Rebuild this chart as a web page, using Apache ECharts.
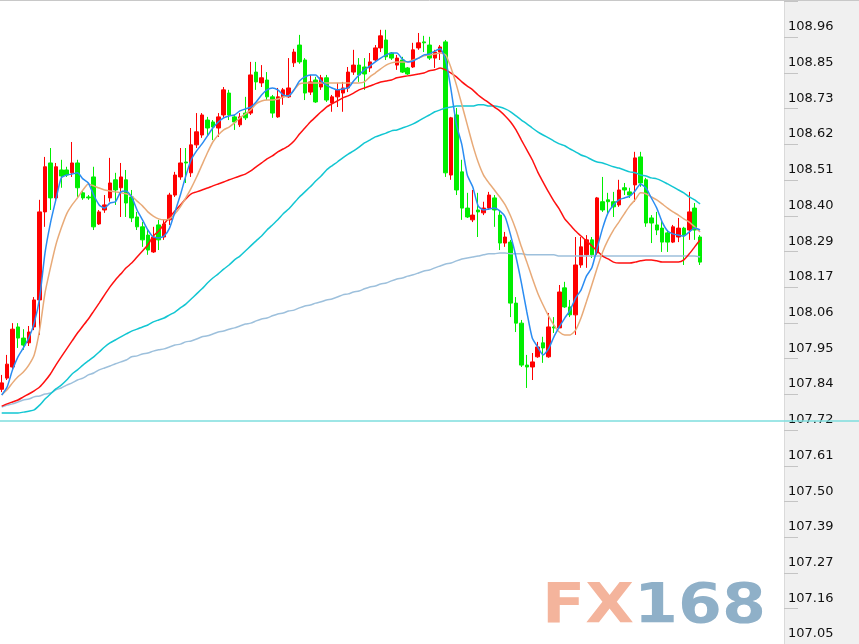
<!DOCTYPE html>
<html><head><meta charset="utf-8">
<script src="https://cdn.jsdelivr.net/npm/echarts@6/dist/echarts.min.js"></script>
<style>html,body{margin:0;padding:0;background:#f0f0f0;overflow:hidden}#c{width:859px;height:644px}</style>
</head><body><div id="c"></div>
<script>
const SLOT_COUNT = 145;
const Y_STEP = 0.11235;
const Y_MIN = 106.9375;
const Y_MAX = Y_MIN + 19 * Y_STEP;
const yTickLabels = ['107.05','107.16','107.27','107.39','107.50','107.61','107.72','107.84','107.95','108.06','108.17','108.29','108.40','108.51','108.62','108.73','108.85','108.96'];
const supportLevel = 107.724;

const open = [107.820,107.855,107.890,108.016,107.981,107.966,108.016,108.101,108.378,108.532,
108.422,108.510,108.510,108.501,108.532,108.438,108.425,108.488,108.340,108.384,
108.422,108.479,108.454,108.479,108.425,108.362,108.331,108.305,108.252,108.337,
108.299,108.353,108.431,108.488,108.535,108.501,108.589,108.620,108.667,108.661,
108.642,108.683,108.752,108.677,108.652,108.689,108.689,108.818,108.784,108.793,
108.740,108.677,108.740,108.740,108.847,108.903,108.856,108.755,108.793,108.771,
108.800,108.721,108.740,108.752,108.768,108.818,108.840,108.834,108.831,108.856,
108.894,108.919,108.878,108.840,108.856,108.831,108.834,108.894,108.913,108.903,
108.862,108.881,108.913,108.494,108.683,108.504,108.390,108.353,108.384,108.375,
108.390,108.422,108.368,108.280,108.283,108.091,108.028,107.896,107.890,107.922,
107.966,107.922,108.016,108.013,108.139,108.079,108.054,108.211,108.243,108.290,
108.249,108.410,108.416,108.410,108.400,108.454,108.441,108.463,108.551,108.479,
108.359,108.337,108.327,108.312,108.283,108.299,108.327,108.321,108.390,108.299];

const close = [107.840,107.899,108.009,107.981,107.959,108.000,108.101,108.378,108.520,108.422,
108.520,108.491,108.494,108.532,108.454,108.422,108.422,108.331,108.378,108.400,
108.469,108.447,108.488,108.406,108.359,108.331,108.290,108.258,108.299,108.290,
108.340,108.431,108.494,108.532,108.532,108.589,108.630,108.683,108.642,108.645,
108.677,108.762,108.683,108.661,108.677,108.674,108.809,108.787,108.800,108.740,
108.689,108.740,108.762,108.768,108.881,108.850,108.752,108.787,108.724,108.800,
108.730,108.740,108.762,108.768,108.818,108.840,108.809,108.812,108.850,108.894,
108.932,108.866,108.862,108.862,108.818,108.812,108.888,108.910,108.910,108.862,
108.881,108.897,108.501,108.674,108.447,108.390,108.362,108.368,108.378,108.390,
108.431,108.384,108.280,108.299,108.091,108.028,107.896,107.890,107.906,107.953,
107.950,108.016,108.013,108.126,108.079,108.054,108.211,108.268,108.290,108.243,
108.422,108.384,108.410,108.394,108.447,108.447,108.431,108.548,108.469,108.343,
108.343,108.321,108.283,108.283,108.331,108.327,108.305,108.378,108.321,108.220];

const low = [107.811,107.849,107.881,107.950,107.944,107.956,108.006,107.991,108.331,108.384,
108.410,108.454,108.488,108.488,108.425,108.416,108.416,108.321,108.337,108.375,
108.410,108.400,108.362,108.362,108.346,108.321,108.268,108.243,108.249,108.258,
108.290,108.337,108.425,108.479,108.469,108.488,108.579,108.611,108.620,108.604,
108.614,108.674,108.667,108.636,108.645,108.667,108.683,108.762,108.771,108.730,
108.674,108.674,108.715,108.737,108.834,108.844,108.730,108.746,108.721,108.762,
108.724,108.693,108.708,108.693,108.755,108.809,108.787,108.762,108.818,108.850,
108.881,108.856,108.856,108.825,108.815,108.809,108.831,108.888,108.881,108.856,
108.831,108.856,108.488,108.479,108.431,108.353,108.359,108.346,108.299,108.368,
108.384,108.331,108.258,108.268,108.047,108.000,107.890,107.824,107.849,107.919,
107.903,107.919,107.997,108.013,108.076,108.047,107.991,108.202,108.202,108.233,
108.243,108.378,108.368,108.362,108.394,108.431,108.422,108.410,108.457,108.331,
108.280,108.305,108.252,108.252,108.280,108.283,108.211,108.290,108.290,108.211];

const high = [107.865,107.928,108.028,108.028,108.009,108.019,108.110,108.416,108.551,108.579,
108.532,108.542,108.520,108.598,108.542,108.447,108.431,108.520,108.384,108.431,
108.548,108.501,108.532,108.510,108.447,108.378,108.346,108.321,108.331,108.353,
108.353,108.438,108.504,108.579,108.579,108.642,108.689,108.689,108.677,108.667,
108.689,108.771,108.762,108.683,108.689,108.740,108.850,108.850,108.840,108.818,
108.746,108.768,108.768,108.862,108.891,108.935,108.862,108.809,108.803,108.809,
108.809,108.746,108.784,108.787,108.834,108.888,108.862,108.862,108.878,108.903,
108.951,108.951,108.881,108.872,108.866,108.834,108.910,108.941,108.932,108.929,
108.888,108.903,108.919,108.677,108.705,108.542,108.438,108.447,108.438,108.410,
108.441,108.431,108.384,108.315,108.290,108.110,108.038,107.928,107.934,107.969,
107.985,108.060,108.047,108.148,108.158,108.101,108.299,108.299,108.305,108.299,
108.425,108.488,108.438,108.441,108.479,108.469,108.454,108.567,108.567,108.485,
108.368,108.378,108.353,108.321,108.337,108.359,108.331,108.441,108.406,108.305];

const maBlue = [107.802,107.827,107.881,107.922,107.950,107.981,108.028,108.107,108.249,108.343,
108.416,108.485,108.494,108.497,108.501,108.482,108.469,108.431,108.400,108.390,
108.406,108.410,108.441,108.444,108.425,108.384,108.353,108.321,108.299,108.296,
108.302,108.327,108.378,108.431,108.491,108.542,108.570,108.592,108.617,108.642,
108.661,108.674,108.680,108.683,108.696,108.702,108.708,108.724,108.746,108.762,
108.768,108.762,108.746,108.743,108.762,108.790,108.803,108.809,108.809,108.790,
108.777,108.768,108.762,108.765,108.768,108.790,108.809,108.825,108.837,108.850,
108.862,108.872,108.878,108.878,108.859,108.850,108.853,108.862,108.872,108.875,
108.884,108.891,108.856,108.762,108.652,108.589,108.494,108.457,108.397,108.384,
108.387,108.390,108.381,108.362,108.305,108.236,108.154,108.063,107.981,107.953,
107.928,107.947,107.985,108.016,108.044,108.069,108.107,108.132,108.176,108.202,
108.265,108.327,108.375,108.400,108.416,108.422,108.428,108.444,108.466,108.453,
108.422,108.390,108.346,108.318,108.309,108.305,108.302,108.315,108.327,108.321];

const maTan = [107.802,107.818,107.840,107.859,107.874,107.896,107.928,108.006,108.123,108.202,
108.274,108.327,108.372,108.400,108.422,108.447,108.466,108.460,108.453,108.447,
108.444,108.441,108.438,108.435,108.428,108.412,108.397,108.378,108.365,108.356,
108.353,108.356,108.372,108.394,108.422,108.453,108.488,108.526,108.564,108.598,
108.620,108.636,108.645,108.658,108.674,108.686,108.699,108.718,108.727,108.730,
108.730,108.733,108.740,108.743,108.762,108.781,108.784,108.784,108.784,108.784,
108.784,108.784,108.784,108.784,108.784,108.784,108.784,108.787,108.803,108.815,
108.828,108.840,108.847,108.850,108.850,108.850,108.856,108.862,108.869,108.872,
108.875,108.878,108.872,108.831,108.777,108.715,108.652,108.589,108.535,108.494,
108.469,108.447,108.425,108.400,108.365,108.321,108.268,108.220,108.170,108.123,
108.085,108.051,108.022,108.000,107.991,107.991,108.006,108.044,108.095,108.148,
108.202,108.252,108.290,108.321,108.346,108.372,108.397,108.416,108.438,108.435,
108.425,108.416,108.403,108.390,108.378,108.368,108.356,108.346,108.331,108.315];

const maRed = [107.767,107.774,107.780,107.786,107.796,107.805,107.815,107.827,107.846,107.868,
107.896,107.922,107.947,107.972,107.997,108.019,108.041,108.066,108.091,108.117,
108.142,108.164,108.183,108.202,108.217,108.236,108.255,108.274,108.302,108.318,
108.340,108.362,108.381,108.400,108.419,108.435,108.441,108.447,108.453,108.460,
108.466,108.472,108.479,108.485,108.491,108.497,108.507,108.520,108.532,108.545,
108.554,108.567,108.576,108.586,108.601,108.623,108.642,108.661,108.677,108.693,
108.708,108.718,108.727,108.737,108.743,108.752,108.762,108.768,108.774,108.781,
108.787,108.790,108.793,108.800,108.803,108.806,108.809,108.812,108.815,108.822,
108.825,108.831,108.825,108.815,108.803,108.787,108.774,108.762,108.746,108.733,
108.721,108.708,108.696,108.680,108.661,108.636,108.604,108.573,108.542,108.504,
108.472,108.441,108.412,108.387,108.356,108.337,108.318,108.302,108.287,108.271,
108.255,108.239,108.230,108.220,108.217,108.217,108.217,108.220,108.224,108.227,
108.227,108.224,108.220,108.220,108.220,108.220,108.227,108.246,108.268,108.290];

const maCyan = [107.745,107.745,107.745,107.745,107.748,107.751,107.755,107.770,107.789,107.805,
107.821,107.833,107.849,107.868,107.881,107.896,107.909,107.922,107.937,107.953,
107.966,107.975,107.985,107.994,108.003,108.009,108.016,108.022,108.032,108.038,
108.044,108.054,108.063,108.076,108.088,108.104,108.120,108.136,108.154,108.170,
108.183,108.198,108.211,108.227,108.239,108.255,108.271,108.287,108.302,108.321,
108.337,108.353,108.372,108.387,108.406,108.425,108.441,108.457,108.475,108.491,
108.510,108.523,108.535,108.548,108.560,108.570,108.582,108.595,108.604,108.614,
108.620,108.626,108.633,108.636,108.642,108.648,108.655,108.664,108.674,108.683,
108.693,108.699,108.705,108.708,108.711,108.711,108.711,108.711,108.715,108.715,
108.711,108.711,108.708,108.702,108.693,108.680,108.667,108.655,108.642,108.630,
108.620,108.611,108.601,108.592,108.586,108.576,108.567,108.557,108.551,108.542,
108.535,108.532,108.526,108.520,108.516,108.510,108.504,108.501,108.494,108.491,
108.485,108.482,108.475,108.466,108.457,108.447,108.438,108.425,108.416,108.403];

const maSlate = [107.764,107.770,107.774,107.780,107.786,107.789,107.796,107.799,107.805,107.808,
107.818,107.824,107.833,107.840,107.849,107.855,107.865,107.871,107.881,107.887,
107.893,107.900,107.906,107.912,107.922,107.925,107.931,107.934,107.940,107.944,
107.947,107.953,107.959,107.962,107.969,107.972,107.978,107.985,107.988,107.994,
108.000,108.003,108.009,108.013,108.019,108.025,108.028,108.035,108.041,108.044,
108.051,108.057,108.060,108.066,108.069,108.076,108.082,108.085,108.091,108.095,
108.101,108.104,108.110,108.117,108.120,108.126,108.129,108.136,108.142,108.145,
108.151,108.154,108.161,108.167,108.170,108.176,108.180,108.186,108.192,108.195,
108.202,108.208,108.214,108.217,108.224,108.230,108.233,108.236,108.239,108.243,
108.246,108.246,108.249,108.249,108.246,108.246,108.246,108.243,108.243,108.243,
108.243,108.243,108.243,108.239,108.239,108.239,108.239,108.239,108.239,108.239,
108.239,108.239,108.239,108.239,108.239,108.239,108.239,108.239,108.239,108.239,
108.239,108.239,108.239,108.239,108.239,108.239,108.239,108.239,108.239,108.236];

const slots = Array.from({length: SLOT_COUNT}, (_, i) => String(i));
const candles = open.map((o, i) => [o, close[i], low[i], high[i]]);

function tickLabel(v) {
  const k = Math.round((v - Y_MIN) / Y_STEP) - 1;
  return (k >= 0 && k < yTickLabels.length) ? yTickLabels[k] : '';
}

const chart = echarts.init(document.getElementById('c'), null, {renderer: 'canvas'});
const maLine = (name, data, color) => ({
  name, type: 'line', data, xAxisIndex: 0, yAxisIndex: 0, symbol: 'none', z: 5,
  silent: true, lineStyle: {color, width: 1.5}, smooth: 0.2
});
const gridBase = {containLabel: false, outerBoundsMode: 'none'};
chart.setOption({
  animation: false,
  backgroundColor: '#f0f0f0',
  grid: [
    Object.assign({left: -1, right: 75, top: -8.7, bottom: -25.7, show: true, backgroundColor: '#ffffff', borderWidth: 0}, gridBase),
    Object.assign({left: -1, right: 75, top: 1.6, bottom: -36}, gridBase),
    Object.assign({left: -1, right: 0, top: -8.7, bottom: -25.7}, gridBase)
  ],
  xAxis: [
    {type: 'category', gridIndex: 0, data: slots, show: false, boundaryGap: true},
    {type: 'category', gridIndex: 1, data: slots, show: false},
    {type: 'category', gridIndex: 2, data: slots, show: false}
  ],
  yAxis: [
    {type: 'value', gridIndex: 0, position: 'right', min: Y_MIN, max: Y_MAX, interval: Y_STEP,
     splitLine: {show: false}, axisLine: {show: true, lineStyle: {color: '#dadada', width: 1}},
     axisTick: {show: false},
     axisLabel: {margin: 4, color: '#111', fontFamily: 'DejaVu Sans', fontSize: 13, formatter: tickLabel}},
    {type: 'value', gridIndex: 1, position: 'right', min: Y_MIN, max: Y_MAX, interval: Y_STEP,
     splitLine: {show: false}, axisLine: {show: false},
     axisTick: {show: true, length: 14, lineStyle: {color: '#c4c4c4', width: 1}},
     axisLabel: {show: false}},
    {type: 'value', gridIndex: 2, min: Y_MIN, max: Y_MAX, show: false, splitLine: {show: false}}
  ],
  series: [
    {type: 'candlestick', data: candles, xAxisIndex: 0, yAxisIndex: 0, barWidth: 4, z: 3, silent: true,
     itemStyle: {color: '#ff0000', color0: '#00ee00', borderColor: '#ff0000', borderColor0: '#00ee00', borderWidth: 1}},
    maLine('MA200', maSlate, '#9dc0dc'),
    maLine('MA60', maCyan, '#12c6d2'),
    maLine('MA20', maRed, '#ff1010'),
    maLine('MA10', maTan, '#e8aa78'),
    maLine('MA5', maBlue, '#2a8cf2'),
    {type: 'line', xAxisIndex: 1, yAxisIndex: 1, data: [], silent: true},
    {type: 'line', xAxisIndex: 2, yAxisIndex: 2, data: [], silent: true, z: 6,
     markLine: {silent: true, symbol: 'none', label: {show: false},
       lineStyle: {color: '#7edede', width: 1.5, type: 'solid'},
       data: [{yAxis: supportLevel}]}}
  ],
  graphic: [
    {type: 'line', shape: {x1: 0, y1: 0.5, x2: 859, y2: 0.5}, style: {stroke: '#c8c8c8', lineWidth: 1}, z: 10},
    {type: 'text', x: 542, y: 607, scaleX: 1.13, z: 1,
     style: {text: '{f|FX}{n|168}', textVerticalAlign: 'middle',
       rich: {f: {fill: '#f4b49c', fontSize: 56, fontWeight: 'bold', fontFamily: 'DejaVu Sans'},
              n: {fill: '#8fb0c8', fontSize: 56, fontWeight: 'bold', fontFamily: 'DejaVu Sans'}}}}
  ]
});
</script>
</body></html>
